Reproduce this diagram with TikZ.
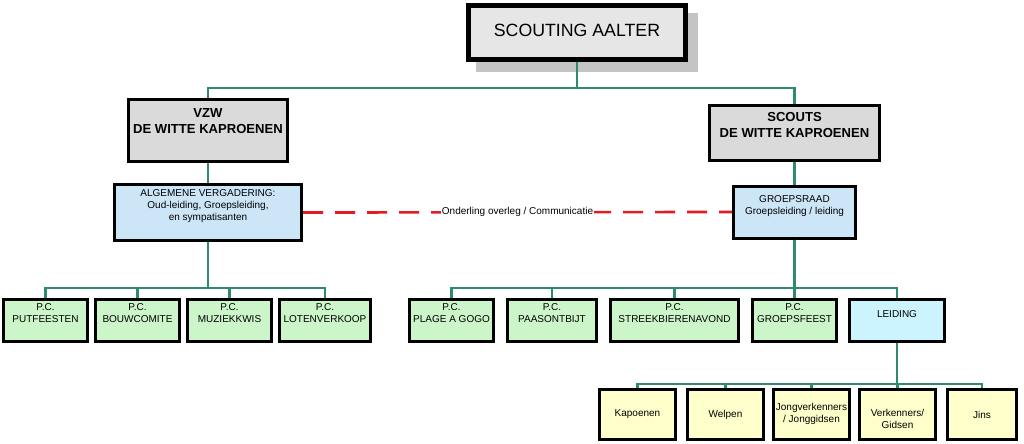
\documentclass[tikz,border=0pt]{standalone}
\usepackage{fontspec}
\setmainfont{Liberation Sans}
\usetikzlibrary{positioning}

\definecolor{boxgray}{HTML}{DADADA}
\definecolor{topgray}{HTML}{E6E6E6}
\definecolor{shadowgray}{HTML}{C4C4C4}
\definecolor{boxblue}{HTML}{CCE6F8}
\definecolor{boxcyan}{HTML}{CCF4FF}
\definecolor{boxgreen}{HTML}{CCF5CA}
\definecolor{boxyellow}{HTML}{FFFFCC}
\definecolor{linkgreen}{HTML}{2E8B6E}
\definecolor{linkred}{HTML}{E31B23}

\tikzset{every picture/.style={line width=0.75pt}}
\tikzset{
  wh/.style 2 args={minimum width=#1*0.75pt, minimum height=#2*0.75pt},
  orgbox/.style={draw=black, line width=2.25pt, inner sep=1pt, align=center,
    font=\fontsize{7.5}{9}\selectfont},
  topbox/.style={orgbox, line width=3.75pt, fill=topgray, font=\fontsize{13.3}{16}\selectfont},
  headbox/.style={orgbox, fill=boxgray, font=\fontsize{9.8}{12}\selectfont\bfseries},
  raadbox/.style={orgbox, fill=boxblue},
  pcbox/.style={orgbox, fill=boxgreen, text depth=10.5pt},
  takbox/.style={orgbox, fill=boxyellow},
  link/.style={draw=linkgreen, line width=2.2pt},
  overleg/.style={draw=linkred, line width=2pt, dash pattern=on 15pt off 9pt}
}

\begin{document}
\begin{tikzpicture}[x=0.75pt,y=0.75pt,yscale=-1]
\useasboundingbox (0,0) rectangle (1024,443);

%Shadow of the top box
\fill[shadowgray] (476,13) rectangle (698,72);

%Top
\node[topbox, wh={217}{54}, text depth=4pt] (aalter) at (577,32.5) {SCOUTING AALTER};

%Second level
\node[headbox, wh={159}{62}, text depth=14.5pt] (vzw) at (208,130.5) {VZW\\DE WITTE KAPROENEN};
\node[headbox, wh={170}{55}, text depth=12.5pt] (scouts) at (794.5,133) {SCOUTS\\DE WITTE KAPROENEN};

%Councils
\node[raadbox, wh={187}{56}, text depth=11pt] (algvg) at (208,212.5) {ALGEMENE VERGADERING:\\Oud-leiding, Groepsleiding,\\en sympatisanten};
\node[raadbox, wh={122}{52}, text depth=10pt] (groepsraad) at (794.5,212) {GROEPSRAAD\\Groepsleiding / leiding};

%P.C. of the vzw
\node[pcbox, wh={84}{42}] (putf) at (45.5,320.5) {P.C.\\PUTFEESTEN};
\node[pcbox, wh={84}{42}] (bouw) at (137.5,320.5) {P.C.\\BOUWCOMITE};
\node[pcbox, wh={84}{42}] (muziek) at (229.5,320.5) {P.C.\\MUZIEKKWIS};
\node[pcbox, wh={91}{42}] (loten) at (325,320.5) {P.C.\\LOTENVERKOOP};

%P.C. of the scouts
\node[pcbox, wh={84}{42}] (plage) at (451.5,320.5) {P.C.\\PLAGE A GOGO};
\node[pcbox, wh={89}{42}] (paas) at (552,320.5) {P.C.\\PAASONTBIJT};
\node[pcbox, wh={128}{42}] (streek) at (674.5,320.5) {P.C.\\STREEKBIERENAVOND};
\node[pcbox, wh={84}{42}] (gfeest) at (794.5,320.5) {P.C.\\GROEPSFEEST};
\node[orgbox, fill=boxcyan, wh={95}{42}, text depth=10pt] (leiding) at (897,320.5) {LEIDING};

%Takken
\node[takbox, wh={76}{50}] (kap) at (637.5,414.5) {Kapoenen};
\node[takbox, wh={76}{50}] (welp) at (725.5,414.5) {Welpen};
\node[takbox, wh={76}{50}, text depth=3pt] (jong) at (811.5,414.5) {Jongverkenners\\/ Jonggidsen};
\node[takbox, wh={76}{50}, text height=21pt] (verk) at (897.5,414.5) {Verkenners/\\Gidsen};
\node[takbox, wh={69}{50}] (jins) at (982,414.5) {Jins};

%Buses
\coordinate (bustop) at (577,88);
\coordinate (busvzw) at (208,288);
\coordinate (busscouts) at (794.5,288);
\coordinate (bustak) at (897,384);

%Connectors
\foreach \n in {vzw,scouts}
  \draw[link] (aalter.south) -- (bustop) -| (\n.north);
\draw[link] (vzw.south) -- (algvg.north);
\draw[link] (scouts.south) -- (groepsraad.north);
\foreach \n in {putf,bouw,muziek,loten}
  \draw[link] (algvg.south) -- (busvzw) -| (\n.north);
\foreach \n in {plage,paas,streek,gfeest,leiding}
  \draw[link] (groepsraad.south) -- (busscouts) -| (\n.north);
\foreach \n in {kap,welp,jong,verk,jins}
  \draw[link] (leiding.south) -- (bustak) -| (\n.north);

%Overleg
\draw[overleg] (algvg.east) -- node[fill=white, inner sep=1pt, font=\fontsize{7.5}{9}\selectfont] (overlegtxt) {Onderling overleg / Communicatie} (groepsraad.west);

\end{tikzpicture}
\end{document}
